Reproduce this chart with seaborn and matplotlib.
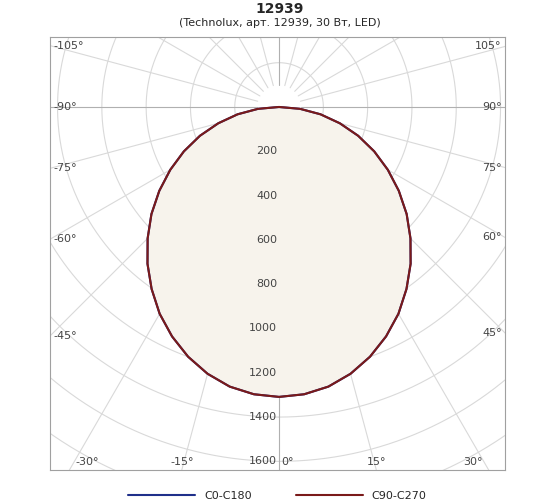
import numpy as np
import pandas as pd
import seaborn as sns
import matplotlib.pyplot as plt

angles = [0, 5, 10, 15, 20, 25, 30, 35, 40, 45, 50, 55, 60, 65, 70, 75, 80, 85, 90]
c0_c180 = [1309, 1302, 1282, 1247, 1200, 1143, 1078, 1003, 924, 839, 752, 660, 567, 474, 380, 284, 190, 95, 0]
c90_c270 = [1309, 1302, 1282, 1247, 1200, 1143, 1078, 1003, 924, 839, 752, 660, 567, 474, 380, 284, 190, 95, 0]
radial_ticks = [200, 400, 600, 800, 1000, 1200, 1400, 1600]
angle_ticks = [-105, -90, -75, -60, -45, -30, -15, 0, 15, 30, 45, 60, 75, 90, 105]

XMIN, XMAX, YMIN, YMAX = -1034, 1020, -1639, 316


def to_xy(theta_deg, r):
    t = np.radians(theta_deg)
    return r * np.sin(t), -r * np.cos(t)


def full_curve(vals):
    a = np.array(angles)
    v = np.array(vals)
    th = np.concatenate([-a[::-1], a[1:]])
    rr = np.concatenate([v[::-1], v[1:]])
    x, y = to_xy(th, rr)
    return pd.DataFrame({'x': x, 'y': y})


def main():
    sns.set_style('white')
    plt.rcParams['font.family'] = ['DejaVu Sans']
    fig = plt.figure(figsize=(5.6, 5.04), dpi=100)
    ax = fig.add_axes([50 / 560, 1 - 470 / 504, 455 / 560, 433 / 504])

    grid = '#d9d9d9'
    th = np.linspace(0, 360, 721)
    for r in range(200, 2600, 200):
        x, y = to_xy(th, r)
        ax.plot(x, y, color=grid, lw=0.8, zorder=1)
    for a in range(0, 360, 15):
        x, y = to_xy(np.array([a, a]), np.array([100, 3000]))
        col = '#b0b0b0' if a % 90 == 0 else grid
        ax.plot(x, y, color=col, lw=0.8, zorder=1)

    df1 = full_curve(c0_c180)
    df2 = full_curve(c90_c270)
    ax.fill(df2['x'], df2['y'], color='#f7f3ec', zorder=2)
    sns.lineplot(data=df1, x='x', y='y', sort=False, estimator=None, color='#1f2f8a', lw=1.5,
                 ax=ax, zorder=3, label='C0-C180')
    sns.lineplot(data=df2, x='x', y='y', sort=False, estimator=None, color='#7a1a1a', lw=1.5,
                 ax=ax, zorder=4, label='C90-C270')

    for r in radial_ticks:
        ax.text(-8, -r, str(r), ha='right', va='center', fontsize=8, color='#444444', zorder=5)

    for a in angle_ticks:
        t = np.radians(a)
        dx, dy = np.sin(t), -np.cos(t)
        ts = []
        if dx > 1e-9:
            ts.append(XMAX / dx)
        if dx < -1e-9:
            ts.append(XMIN / dx)
        if dy < -1e-9:
            ts.append(YMIN / dy)
        if dy > 1e-9:
            ts.append(YMAX / dy)
        s = min(ts)
        x, y = s * dx, s * dy
        if a == 0:
            ax.text(x + 10, y + 15, '0°', ha='left', va='bottom', fontsize=8, color='#444444')
        elif abs(a) == 30:
            ax.text(x + (-25 if a > 0 else 25), y + 15, f'{a}°', ha='right' if a > 0 else 'left',
                    va='bottom', fontsize=8, color='#444444')
        elif abs(a) == 15:
            ax.text(x, y + 15, f'{a}°', ha='center', va='bottom', fontsize=8, color='#444444')
        else:
            ax.text(x + (-15 if a > 0 else 15), y, f'{a}°', ha='right' if a > 0 else 'left',
                    va='center', fontsize=8, color='#444444')

    ax.set_xlim(XMIN, XMAX)
    ax.set_ylim(YMIN, YMAX)
    ax.set_xticks([])
    ax.set_yticks([])
    ax.set_xlabel('')
    ax.set_ylabel('')
    for sp in ax.spines.values():
        sp.set_color('#a0a0a0')
        sp.set_linewidth(0.8)

    ax.legend(loc='upper center', bbox_to_anchor=(0.5, -0.025), ncol=2, frameon=False,
              fontsize=8, handlelength=6, columnspacing=4)

    fig.text(0.5, 1 - 9 / 504, '12939', ha='center', va='center', fontsize=10, fontweight='bold')
    fig.text(0.5, 1 - 23 / 504, '(Technolux, арт. 12939, 30 Вт, LED)', ha='center', va='center', fontsize=8)
    fig.savefig('out.png', dpi=100, facecolor='white')


if __name__ == '__main__':
    main()
